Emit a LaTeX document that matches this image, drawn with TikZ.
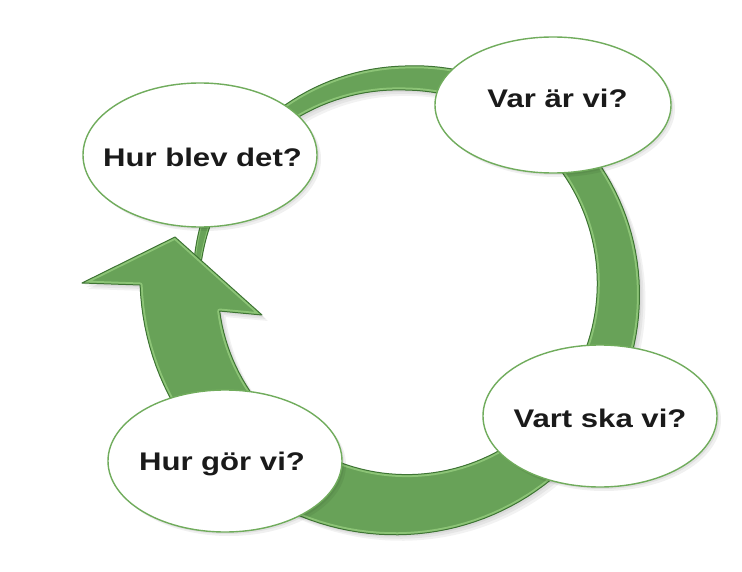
\documentclass[tikz,border=0pt]{standalone}
\usepackage{fontspec}
\setmainfont{Liberation Sans}
\usepackage{graphicx}
\usetikzlibrary{shapes.geometric}
\definecolor{ringfill}{RGB}{104,162,88}
\definecolor{ringdark}{RGB}{62,116,52}
\definecolor{ringlight}{RGB}{140,196,118}
\definecolor{ellborder}{RGB}{112,172,92}
\definecolor{txt}{RGB}{26,26,26}
\begin{document}
\begin{tikzpicture}[x=1pt,y=-1pt,
  declare function={rin(\t)=195-0.03*\t-0.09*min(\t,0); wd(\t)=24+0.2*\t; rout(\t)=rin(\t)+wd(\t);},
  bubble/.style={ellipse, draw=ellborder, line width=1.4pt, fill=white, inner sep=0pt},
  qtext/.style={anchor=base, inner sep=0pt, text=txt, font=\fontsize{25.5}{30}\selectfont\bfseries},
  ringstyle/.style={fill=ringfill},
  ringedge/.style={draw=ringdark, line width=1pt, line join=round}]
\useasboundingbox (0,0) rectangle (742,572);
\fill[white] (0,0) rectangle (742,572);

\def\tailring{plot[domain=-84:-40,samples=30,variable=\t] ({405+rin(\t)*sin(\t)},{285-rin(\t)*cos(\t)}) -- plot[domain=-40:-84,samples=30,variable=\t] ({405+rout(\t)*sin(\t)},{285-rout(\t)*cos(\t)}) -- cycle}
\def\mainring{plot[domain=-45:262,samples=140,variable=\t] ({405+rin(\t)*sin(\t)},{285-rin(\t)*cos(\t)}) -- (262,315) -- (175,237) -- (82,283) -- plot[domain=270:-45,samples=140,variable=\t] ({405+rout(\t)*sin(\t)},{285-rout(\t)*cos(\t)}) -- cycle}

% soft shadow of the ring
\foreach \s in {2,4,6}{
  \fill[black,opacity=0.05,shift={(\s,\s)}] \mainring;
}

% tail
\fill[ringstyle] \tailring;
\begin{scope}
  \clip \tailring;
  \draw[ringlight,line width=3pt] \tailring;
\end{scope}
\draw[ringedge] \tailring;

% main ring with arrow head
\fill[ringstyle] \mainring;
\begin{scope}
  \clip \mainring;
  \draw[ringlight,line width=5pt,line join=round] \mainring;
\end{scope}
\draw[ringedge] \mainring;

% bubble shadows
\foreach \cx/\cy/\rx/\ry in {200/155/117/72, 553/105/118/68, 600/416/117/71, 225/461/117/71}{
  \foreach \s in {2,4}{
    \fill[black,opacity=0.06] (\cx+\s,\cy+\s) ellipse [x radius=\rx, y radius=\ry];
  }
}

% bubbles
\node[bubble, minimum width=234pt, minimum height=144pt] (e1) at (200,155) {};
\node[bubble, minimum width=236pt, minimum height=136pt] (e2) at (553,105) {};
\node[bubble, minimum width=234pt, minimum height=142pt] (e3) at (600,416) {};
\node[bubble, minimum width=234pt, minimum height=142pt] (e4) at (225,461) {};

% texts
\node[qtext] (t1) at (202.5,167) {\scalebox{1.22}[1]{Hur blev det?}};
\node[qtext] (t2) at (557.5,108) {\scalebox{1.22}[1]{Var är vi?}};
\node[qtext] (t3) at (600,427) {\scalebox{1.22}[1]{Vart ska vi?}};
\node[qtext] (t4) at (222,470) {\scalebox{1.22}[1]{Hur gör vi?}};
\end{tikzpicture}
\end{document}
